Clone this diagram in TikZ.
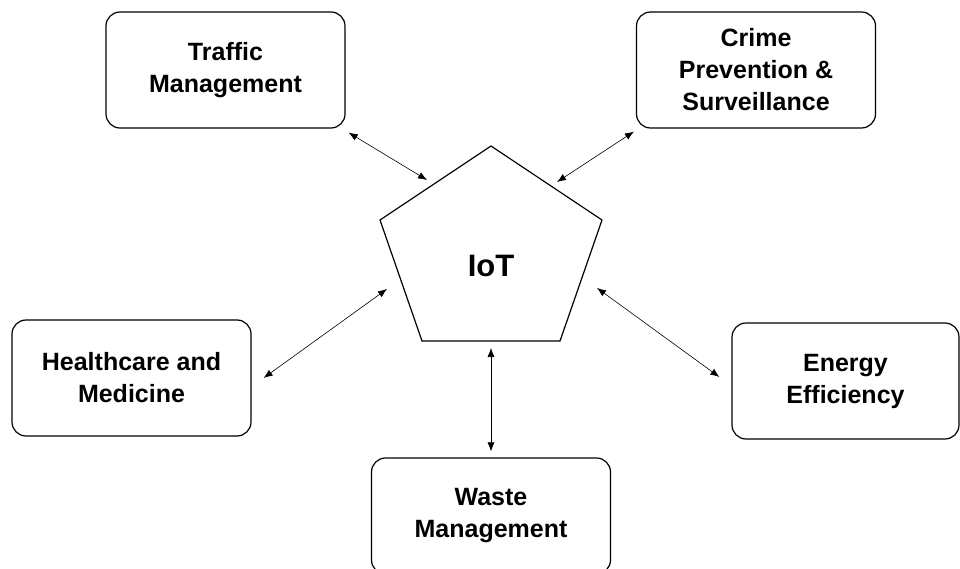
\documentclass[tikz,border=0pt]{standalone}
\usepackage{fontspec}
\setmainfont{Liberation Sans}
\usetikzlibrary{arrows.meta}

\tikzset{
  area/.style={draw, line width=1.2pt, rounded corners=14pt, minimum width=239pt,
    minimum height=116pt, align=center, font=\fontsize{25}{32}\selectfont\bfseries},
  link/.style={{Latex[length=9pt,width=7pt]}-{Latex[length=9pt,width=7pt]}, line width=0.6pt}
}

\begin{document}
\begin{tikzpicture}[x=1pt,y=-1pt]
		\useasboundingbox (0,0) rectangle (960,569);
		\clip (0,0) rectangle (960,569);
		% pentagon
		\coordinate (top) at (491,146);
		\coordinate (ur) at (602,220);
		\coordinate (lr) at (560,341);
		\coordinate (ll) at (422,341);
		\coordinate (ul) at (380,220);
		\draw[line width=1.2pt] (top) -- (ur) -- (lr) -- (ll) -- (ul) -- cycle;
		\node (iot) at (491,266) {\fontsize{31}{31}\selectfont\bfseries IoT};
		% areas
		\node[area] (traffic) at (225.5,70) {Traffic\\Management};
		\node[area] (crime) at (756,70) {Crime\\Prevention \&\\Surveillance};
		\node[area] (health) at (131.5,378) {Healthcare and\\Medicine};
		\node[area, minimum width=227pt] (energy) at (845.5,381) {Energy\\Efficiency};
		\node[area] (waste) at (491,516) {Waste\\Management};
		% arrow ends at the pentagon
		\coordinate (iotTL) at (427,180);
		\coordinate (iotTR) at (557,182);
		\coordinate (iotL) at (387,289);
		\coordinate (iotR) at (597,288);
		\coordinate (iotB) at (491,348);
		\draw[link] ([shift={(3,4)}]traffic.south east) -- (iotTL);
		\draw[link] ([shift={(-2,3)}]crime.south west) -- (iotTR);
		\draw[link] ([xshift=12pt]health.east) -- (iotL);
		\draw[link] ([shift={(-12,-4)}]energy.west) -- (iotR);
		\draw[link] (iotB) -- ([yshift=6pt]waste.north);
\end{tikzpicture}
\end{document}
